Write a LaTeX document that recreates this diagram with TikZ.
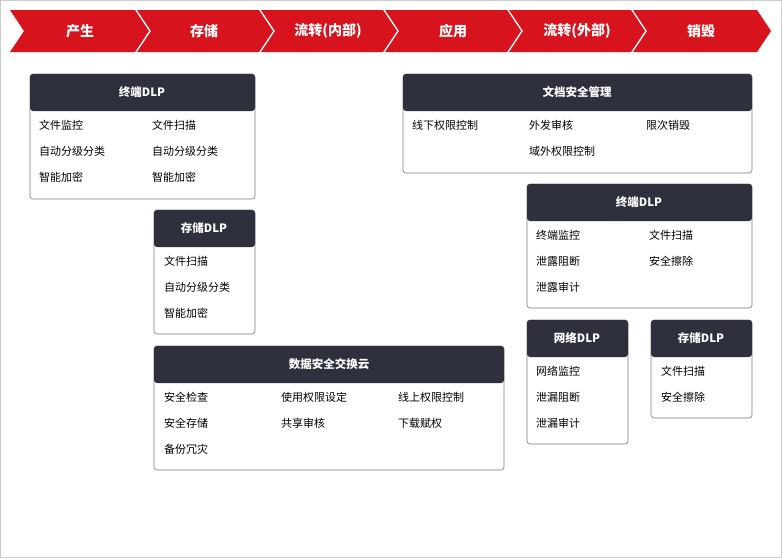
\documentclass[tikz,border=0pt]{standalone}
\usepackage{fontspec}
\setmainfont{Noto Sans CJK SC}
\usetikzlibrary{positioning}
\definecolor{chevred}{HTML}{D7141E}
\definecolor{headdark}{HTML}{2E303E}
\definecolor{framegray}{HTML}{7A7A7A}
\tikzset{
  chev/.style={fill=chevred,draw=none},
  stagelabel/.style={text=white,font=\fontsize{14}{16}\selectfont\bfseries},
  headbox/.style={draw=framegray,fill=headdark,rounded corners=3pt},
  bodybox/.style={draw=framegray,fill=white,rounded corners=3pt,line width=0.6pt},
  headlabel/.style={text=white,font=\fontsize{11.5}{14}\selectfont\bfseries},
  item/.style={anchor=west,inner sep=0pt,font=\fontsize{11}{13}\selectfont}
}
\begin{document}
\begin{tikzpicture}[x=1pt,y=-1pt]
\useasboundingbox (0,0) rectangle (782,558);
\draw[gray!40,fill=white] (0.5,0.5) rectangle (781.5,557.5);

% stage arrows
\fill[chev] (10,10) -- (135,10) -- (149,31) -- (135,52) -- (10,52) -- (24,31) -- cycle;
\foreach \xs in {135,259,383,507}{
  \fill[chev] (\xs+2,10) -- (\xs+124,10) -- (\xs+138,31) -- (\xs+124,52) -- (\xs+2,52) -- (\xs+16,31) -- cycle;
}
\fill[chev] (633,10) -- (757,10) -- (771,31) -- (757,52) -- (633,52) -- (647,31) -- cycle;
\node[stagelabel] (s1) at (80,31) {产生};
\node[stagelabel] (s2) at (204,31) {存储};
\node[stagelabel] (s3) at (328,31) {流转(内部)};
\node[stagelabel] (s4) at (453,31) {应用};
\node[stagelabel] (s5) at (577,31) {流转(外部)};
\node[stagelabel] (s6) at (701,31) {销毁};

% boxes: body then header
\draw[bodybox] (30,74) rectangle (255,199);
\fill[headdark,rounded corners=3pt] (30,74) rectangle (255,111);
\node[headlabel] (t1) at (142,92) {终端DLP};
\node[item] at (39,125) {文件监控};
\node[item] at (152,125) {文件扫描};
\node[item] at (39,151) {自动分级分类};
\node[item] at (152,151) {自动分级分类};
\node[item] at (39,177) {智能加密};
\node[item] at (152,177) {智能加密};

\draw[bodybox] (154,210) rectangle (255,334);
\fill[headdark,rounded corners=3pt] (154,210) rectangle (255,247);
\node[headlabel] (t2) at (204,228) {存储DLP};
\node[item] at (164,261) {文件扫描};
\node[item] at (164,287) {自动分级分类};
\node[item] at (164,313) {智能加密};

\draw[bodybox] (154,346) rectangle (504,470);
\fill[headdark,rounded corners=3pt] (154,346) rectangle (504,383);
\node[headlabel] (t3) at (329,364) {数据安全交换云};
\node[item] at (164,397) {安全检查};
\node[item] at (281,397) {使用权限设定};
\node[item] at (398,397) {线上权限控制};
\node[item] at (164,423) {安全存储};
\node[item] at (281,423) {共享审核};
\node[item] at (398,423) {下载赋权};
\node[item] at (164,449) {备份冗灾};

\draw[bodybox] (403,74) rectangle (752,173);
\fill[headdark,rounded corners=3pt] (403,74) rectangle (752,111);
\node[headlabel] (t4) at (577,92) {文档安全管理};
\node[item] at (412,125) {线下权限控制};
\node[item] at (529,125) {外发审核};
\node[item] at (646,125) {限次销毁};
\node[item] at (529,151) {域外权限控制};

\draw[bodybox] (527,184) rectangle (752,308);
\fill[headdark,rounded corners=3pt] (527,184) rectangle (752,221);
\node[headlabel] (t5) at (639,202) {终端DLP};
\node[item] at (536,235) {终端监控};
\node[item] at (649,235) {文件扫描};
\node[item] at (536,261) {泄露阻断};
\node[item] at (649,261) {安全擦除};
\node[item] at (536,287) {泄露审计};

\draw[bodybox] (527,320) rectangle (628,444);
\fill[headdark,rounded corners=3pt] (527,320) rectangle (628,357);
\node[headlabel] (t6) at (577,338) {网络DLP};
\node[item] at (536,371) {网络监控};
\node[item] at (536,397) {泄漏阻断};
\node[item] at (536,423) {泄漏审计};

\draw[bodybox] (651,320) rectangle (752,418);
\fill[headdark,rounded corners=3pt] (651,320) rectangle (752,357);
\node[headlabel] (t7) at (701,338) {存储DLP};
\node[item] at (661,371) {文件扫描};
\node[item] at (661,397) {安全擦除};
\end{tikzpicture}
\end{document}
